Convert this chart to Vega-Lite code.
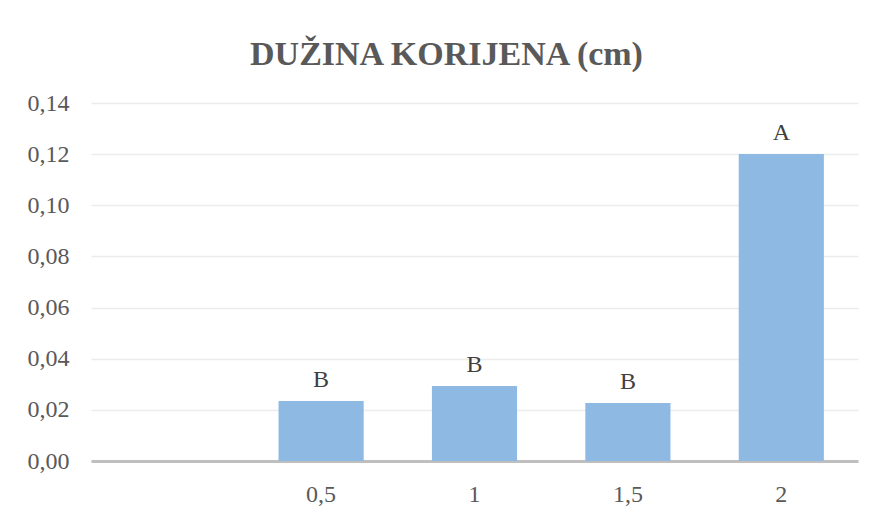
{
  "$schema": "https://vega.github.io/schema/vega-lite/v6.json",
  "width": 767,
  "height": 358,
  "autosize": {"type": "none"},
  "padding": {"left": 91, "top": 103, "right": 19, "bottom": 55},
  "background": "white",
  "config": {
    "locale": {"number": {"decimal": ",", "thousands": ".", "grouping": [3], "currency": ["", " €"]}},
    "view": {"stroke": null},
    "font": "Liberation Serif"
  },
  "title": {
    "text": "DUŽINA KORIJENA (cm)",
    "font": "Liberation Serif",
    "fontSize": 34,
    "fontWeight": "bold",
    "color": "#595959",
    "anchor": "middle",
    "frame": "group",
    "dx": -28,
    "offset": 19
  },
  "data": {
    "values": [
      {"koncentracija": "", "duzina": 0, "slovo": ""},
      {"koncentracija": "0,5", "duzina": 0.0235, "slovo": "B"},
      {"koncentracija": "1", "duzina": 0.0293, "slovo": "B"},
      {"koncentracija": "1,5", "duzina": 0.0227, "slovo": "B"},
      {"koncentracija": "2", "duzina": 0.1201, "slovo": "A"}
    ]
  },
  "encoding": {
    "x": {
      "field": "koncentracija",
      "type": "ordinal",
      "sort": null,
      "scale": {"paddingInner": 0.445, "paddingOuter": 0.2225},
      "axis": {
        "title": null,
        "labelAngle": 0,
        "labelFont": "Liberation Serif",
        "labelFontSize": 24,
        "labelColor": "#595959",
        "labelPadding": 21,
        "ticks": false,
        "domainColor": "#bfbfbf",
        "domainWidth": 3,
        "grid": false
      }
    },
    "y": {
      "field": "duzina",
      "type": "quantitative",
      "scale": {"domain": [0, 0.14], "nice": false},
      "axis": {
        "title": null,
        "values": [0, 0.02, 0.04, 0.06, 0.08, 0.1, 0.12, 0.14],
        "format": ".2f",
        "labelFont": "Liberation Serif",
        "labelFontSize": 24,
        "labelColor": "#595959",
        "labelPadding": 22,
        "ticks": false,
        "domain": false,
        "gridColor": "#ececec",
        "gridWidth": 1.5
      }
    }
  },
  "layer": [
    {"mark": {"type": "bar", "color": "#8db9e2"}},
    {
      "mark": {"type": "text", "font": "Liberation Serif", "fontSize": 24, "color": "#404040", "baseline": "alphabetic", "dy": -14},
      "encoding": {"text": {"field": "slovo"}}
    }
  ]
}
